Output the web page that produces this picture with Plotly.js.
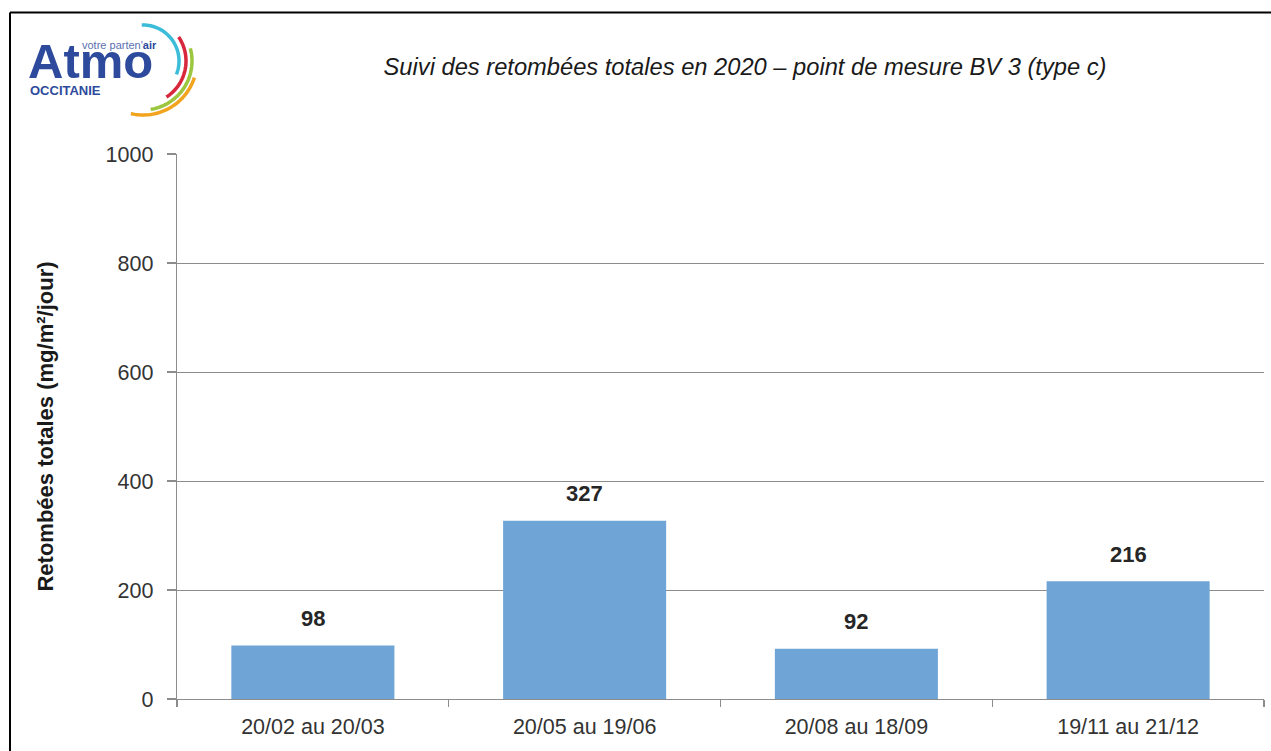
<!DOCTYPE html>
<html>
<head>
<meta charset="utf-8">
<script src="https://cdn.plot.ly/plotly-3.0.1.min.js"></script>
<style>
html,body{margin:0;padding:0;background:#fff;}
#chart{width:1271px;height:751px;}
</style>
</head>
<body>
<div id="chart"></div>
<script>
// ---- data ----
const categories = ["20/02 au 20/03", "20/05 au 19/06", "20/08 au 18/09", "19/11 au 21/12"];
const values = [98, 327, 92, 216];
const yTickValues = [0, 200, 400, 600, 800, 1000];
const chartTitle = "Suivi des retombées totales en 2020 – point de mesure BV 3 (type c)";
const yTitle = "Retombées totales (mg/m²/jour)";

// ---- layout geometry (pixels) ----
const W = 1271, H = 751;
const L = 177, R = 1264, T = 154, B = 699;
const px = x => (x - L) / (R - L);
const py = y => (B - y) / (B - T);

const font = "Liberation Sans, Arial, sans-serif";

// logo arcs (decoration)
function arcPath(cx, cy, r, a0, a1) {
  let d = "";
  const n = 40;
  for (let i = 0; i <= n; i++) {
    const a = (a0 + (a1 - a0) * i / n) * Math.PI / 180;
    const x = cx + r * Math.cos(a), y = cy - r * Math.sin(a);
    d += (i === 0 ? "M" : "L") + px(x).toFixed(5) + "," + py(y).toFixed(5);
  }
  return d;
}
const logoArcs = [
  {r: 36, a0: 92, a1: -22, color: "#3bbcd9"},
  {r: 43, a0: 34, a1: -57, color: "#d8263c"},
  {r: 49, a0: 15, a1: -81, color: "#9cc63e"},
  {r: 54, a0: -18, a1: -103, color: "#f2a41f"}
];
const shapes = logoArcs.map(a => ({
  type: "path", xref: "paper", yref: "paper",
  path: arcPath(143, 61, a.r, a.a0, a.a1),
  line: {color: a.color, width: 3.5}
}));
// page frame
shapes.push({type: "line", xref: "paper", yref: "paper",
  x0: px(10), x1: px(1275), y0: py(12.5), y1: py(12.5), line: {color: "#000", width: 2}});
shapes.push({type: "line", xref: "paper", yref: "paper",
  x0: px(10), x1: px(10), y0: py(12.5), y1: py(760), line: {color: "#000", width: 2}});

const annotations = categories.map((c, i) => ({
  x: c, y: values[i], xref: "x", yref: "y",
  text: "<b>" + values[i] + "</b>", showarrow: false,
  yshift: 27, font: {family: font, size: 22, color: "#262626"}
}));
// logo text
annotations.push({xref: "paper", yref: "paper", x: px(26), y: py(61), xanchor: "left", yanchor: "middle",
  text: "<b>Atmo</b>", showarrow: false, font: {family: font, size: 49, color: "#2e4a9c"}});
annotations.push({xref: "paper", yref: "paper", x: px(80), y: py(45), xanchor: "left", yanchor: "middle",
  text: "votre parten'<b><span style='color:#2e4a9c'>air</span></b>", showarrow: false,
  font: {family: font, size: 11, color: "#5a6fb0"}});
annotations.push({xref: "paper", yref: "paper", x: px(28), y: py(91), xanchor: "left", yanchor: "middle",
  text: "<b>OCCITANIE</b>", showarrow: false, font: {family: font, size: 13, color: "#2e4a9c"}});

const trace = {
  type: "bar", x: categories, y: values,
  marker: {color: "#6fa5d6", line: {width: 0}},
  hoverinfo: "x+y"
};

const layout = {
  width: W, height: H,
  margin: {l: L, r: W - R, t: T, b: H - B, pad: 0},
  paper_bgcolor: "#fff", plot_bgcolor: "#fff",
  showlegend: false,
  bargap: 0.4,
  title: {text: "<i>" + chartTitle + "</i>", x: 745 / W, xanchor: "center",
    y: 1 - 67 / H, yanchor: "middle", font: {family: font, size: 23.7, color: "#1a1a1a"}},
  xaxis: {
    type: "category", showline: true, linecolor: "#8c8c8c", linewidth: 1.3,
    ticks: "outside", tickson: "boundaries", ticklen: 7, tickcolor: "#8c8c8c", tickwidth: 1.3,
    ticklabelstandoff: 8,
    showgrid: false, zeroline: false,
    tickfont: {family: font, size: 21.5, color: "#333"}
  },
  yaxis: {
    range: [0, 1000], tickvals: yTickValues, showline: true, linecolor: "#8c8c8c", linewidth: 1.3,
    ticks: "outside", ticklen: 9, tickcolor: "#8c8c8c", tickwidth: 1.3,
    ticklabelstandoff: 9,
    showgrid: true, gridcolor: "#8c8c8c", gridwidth: 1, zeroline: false,
    tickfont: {family: font, size: 21.5, color: "#333"},
    title: {text: "<b>" + yTitle + "</b>", standoff: 46, font: {family: font, size: 22, color: "#1a1a1a"}}
  },
  shapes: shapes,
  annotations: annotations
};

Plotly.newPlot("chart", [trace], layout, {displayModeBar: false, staticPlot: true});
</script>
</body>
</html>
